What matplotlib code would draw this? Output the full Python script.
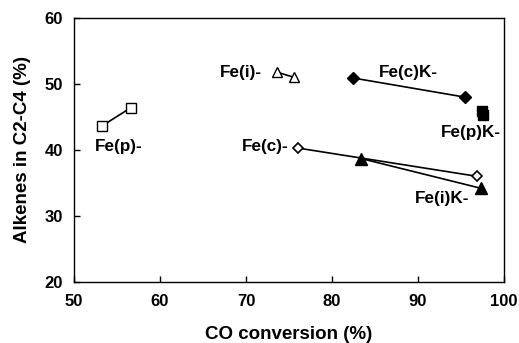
import matplotlib
matplotlib.use("Agg")
import matplotlib.pyplot as plt

plt.rcParams["font.family"] = ["Liberation Sans", "DejaVu Sans"]
plt.rcParams["font.weight"] = "bold"

# -----------------------------
# Data
# -----------------------------

fep_x = [53.2, 56.6]
fep_y = [43.6, 46.4]

fei_x = [73.6, 75.6]
fei_y = [51.8, 51.0]

fec_x = [76.0, 96.9]
fec_y = [40.3, 36.0]

feck_x = [82.5, 95.5]
feck_y = [50.9, 48.0]

fepk_x = [97.5, 97.6]
fepk_y = [45.9, 45.3]

feik_x = [83.4, 97.3]
feik_y = [38.7, 34.2]

labels = ["Fe(p)-", "Fe(i)-", "Fe(c)-", "Fe(c)K-", "Fe(p)K-", "Fe(i)K-"]

# -----------------------------
# Plot
# -----------------------------

fig = plt.figure(figsize=(5.19, 3.43), dpi=100)
ax = fig.add_axes([0.1426, 0.178, 0.8284, 0.7695])

line_kw = dict(color="black", linewidth=1.2)

ax.plot(fep_x, fep_y, marker="s", markersize=6.5, markerfacecolor="white",
        markeredgecolor="black", markeredgewidth=1.0, **line_kw)
ax.plot(fei_x, fei_y, marker="^", markersize=7, markerfacecolor="white",
        markeredgecolor="black", markeredgewidth=1.0, **line_kw)
ax.plot(fec_x, fec_y, marker="D", markersize=5.5, markerfacecolor="white",
        markeredgecolor="black", markeredgewidth=1.2, **line_kw)
ax.plot(feck_x, feck_y, marker="D", markersize=6.5, markerfacecolor="black",
        markeredgecolor="black", **line_kw)
ax.plot(fepk_x, fepk_y, marker="s", markersize=6.5, markerfacecolor="black",
        markeredgecolor="black", **line_kw)
ax.plot(feik_x, feik_y, marker="^", markersize=8, markerfacecolor="black",
        markeredgecolor="black", **line_kw)

txt = dict(fontsize=12.3, fontweight="bold")
ax.text(52.45, 40.5, labels[0], ha="left", va="center", **txt)
ax.text(71.8, 51.75, labels[1], ha="right", va="center", **txt)
ax.text(74.9, 40.6, labels[2], ha="right", va="center", **txt)
ax.text(85.5, 51.7, labels[3], ha="left", va="center", **txt)
ax.text(96.1, 42.6, labels[4], ha="center", va="center", **txt)
ax.text(92.8, 32.6, labels[5], ha="center", va="center", **txt)

ax.set_xlim(50, 100)
ax.set_ylim(20, 60)
ax.set_xticks([50, 60, 70, 80, 90, 100])
ax.set_yticks([20, 30, 40, 50, 60])

ax.tick_params(direction="in", length=4, width=1, labelsize=12)
ax.tick_params(axis="x", pad=9)
ax.tick_params(axis="y", pad=8)
for lab in ax.get_xticklabels() + ax.get_yticklabels():
    lab.set_fontweight("bold")
for sp in ax.spines.values():
    sp.set_linewidth(1.0)

ax.set_xlabel("CO conversion (%)", fontsize=13.5, fontweight="bold", labelpad=12)
ax.set_ylabel("Alkenes in C2-C4 (%)", fontsize=13.5, fontweight="bold", labelpad=10)

fig.savefig("out.png", dpi=100)
